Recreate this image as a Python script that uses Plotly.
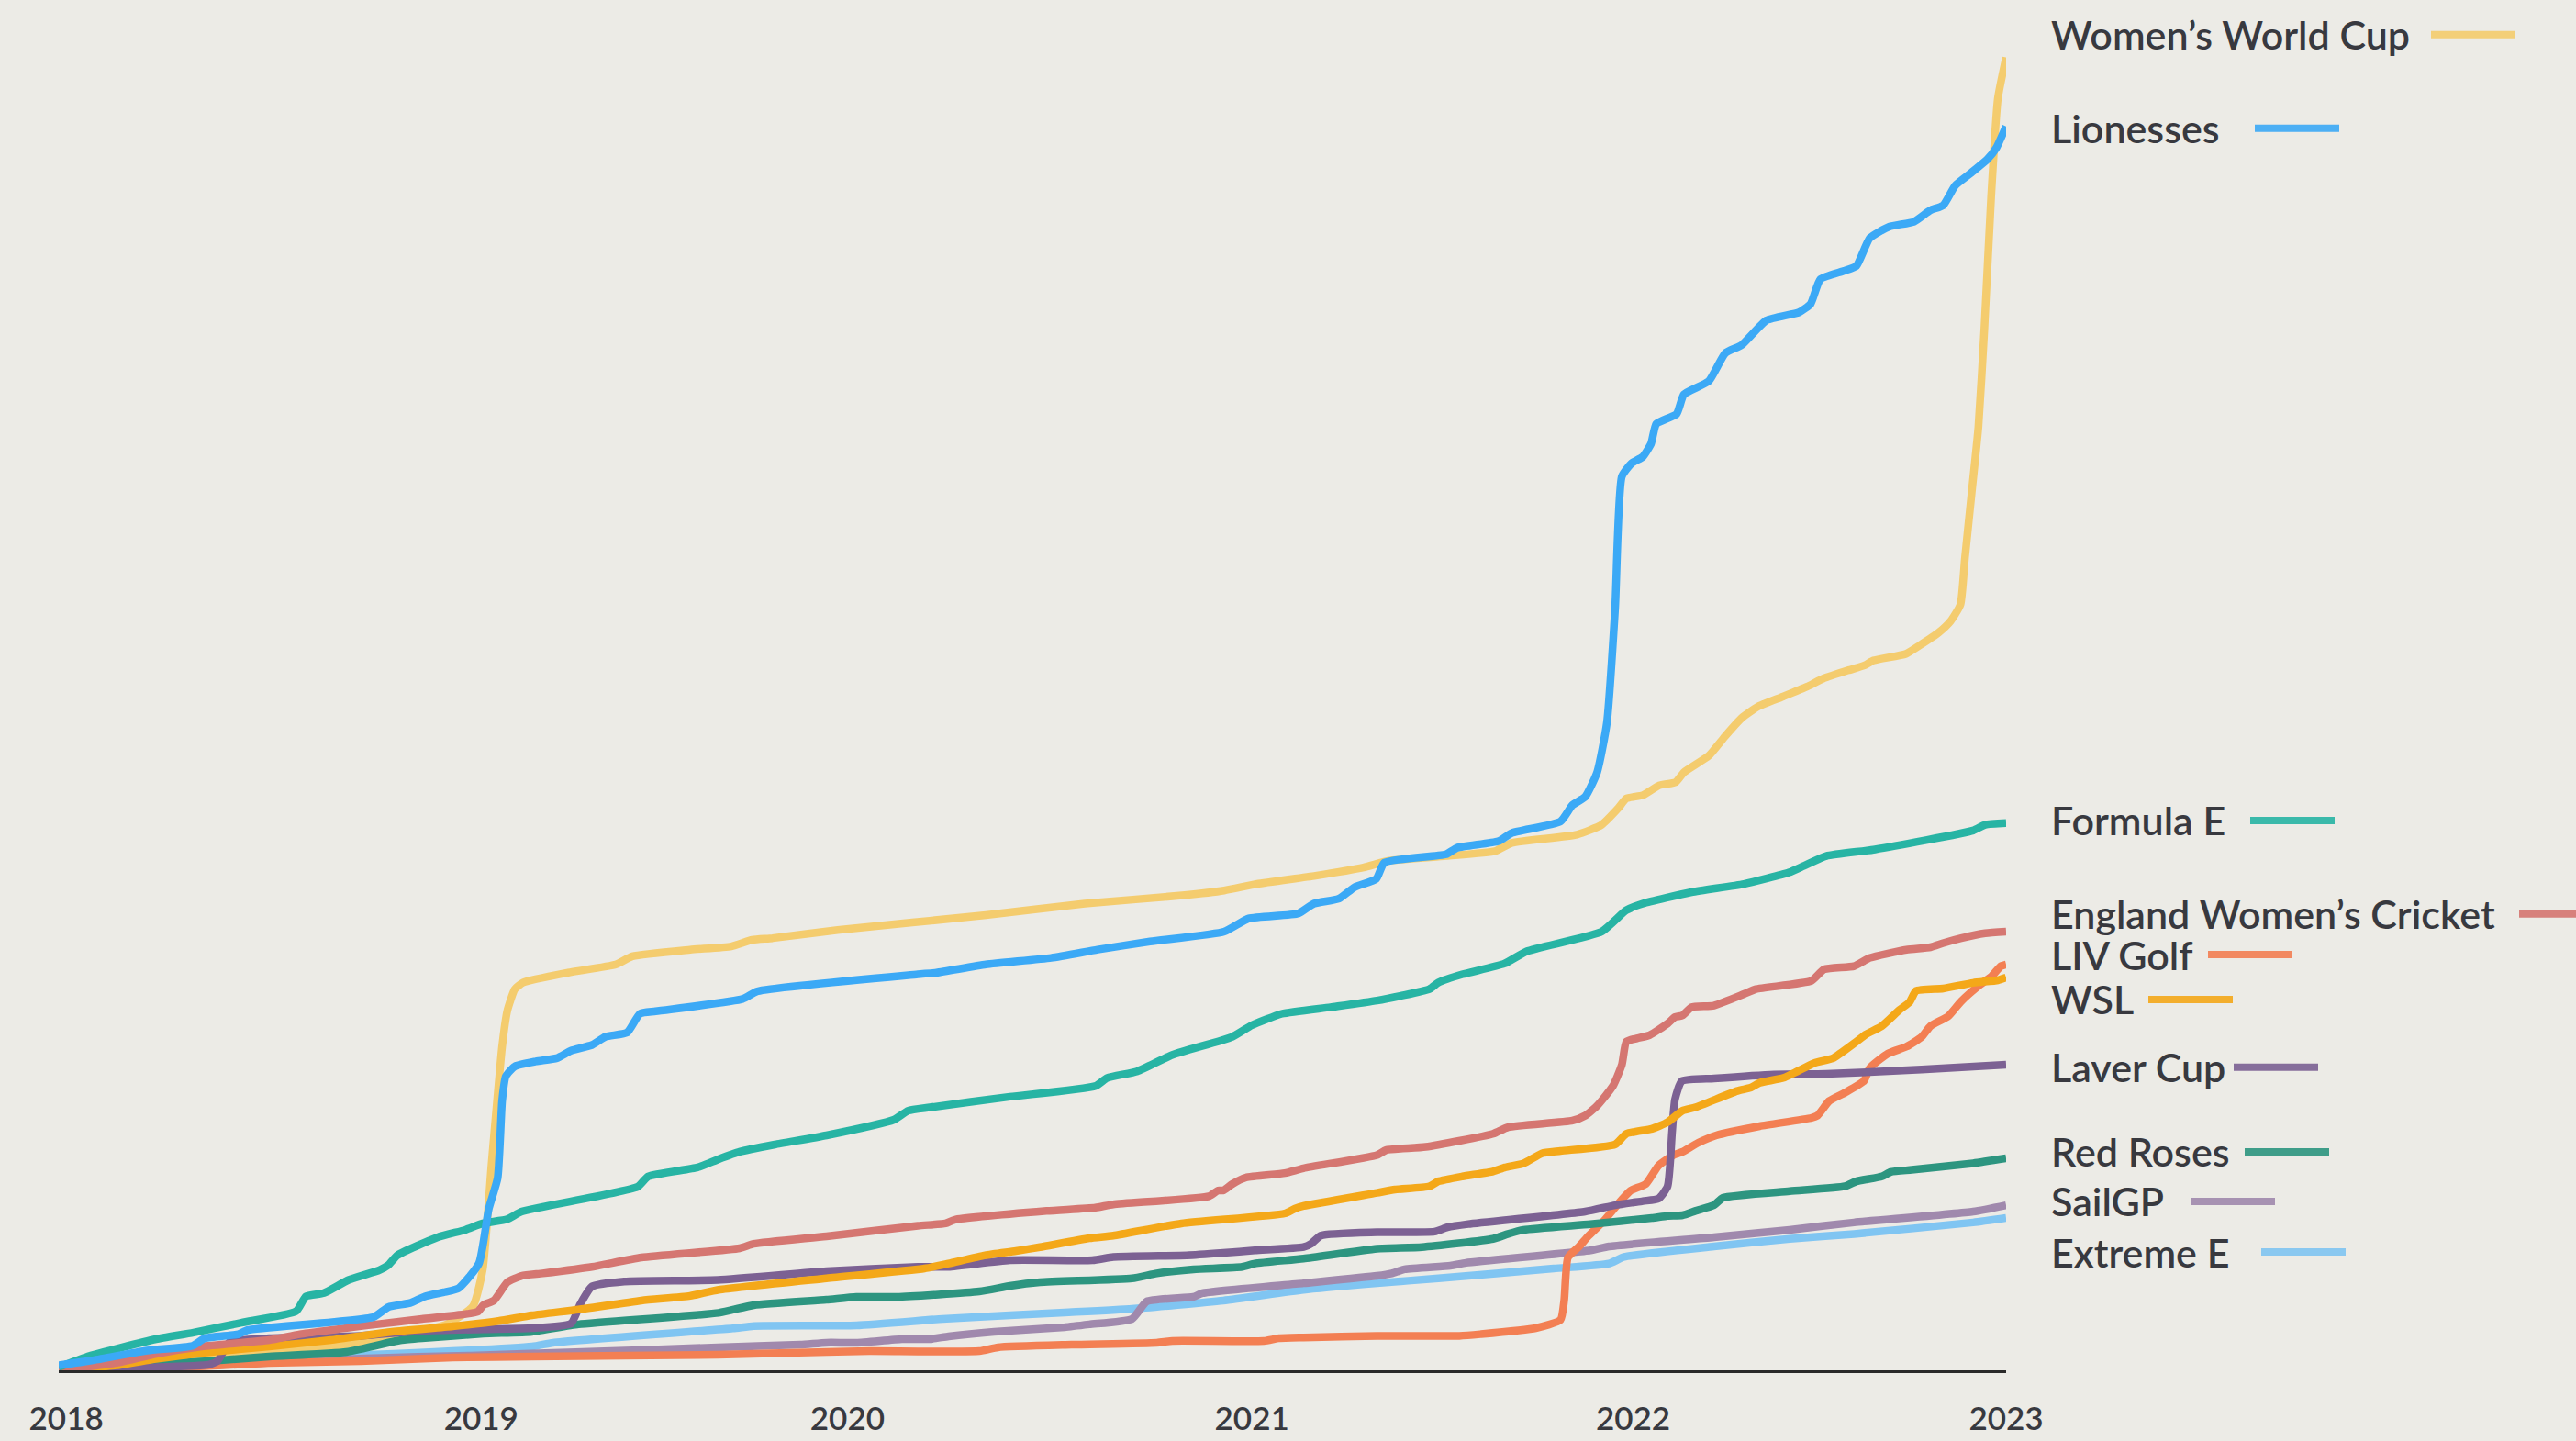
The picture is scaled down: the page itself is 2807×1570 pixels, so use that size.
import plotly.graph_objects as go

# ---------------- data (x = weeks since start of 2018, y = index value) ----------------
tick_weeks = [1.0, 56.4, 105.3, 159.3, 210.2, 260]
tick_labels = ["2018", "2019", "2020", "2021", "2022", "2023"]

wwc_w = [0, 10, 20, 30, 36.3, 40.3, 46.4, 51.8, 55.3, 56.6, 57.8, 59.2, 59.9, 60.9, 62, 68, 74.4, 76.6, 84.3, 89.8,
         92.6, 95.3, 104, 123.8, 137, 150, 155.6, 160, 167.8, 174.2, 177.5, 185.2, 191.8, 194, 202.7, 206, 208.2, 209.3,
         211.5, 213.7, 215.9, 217, 220.3, 222.5, 224.7, 226.9, 230.2, 233.4, 235.6, 238.9, 241.1, 242.3, 246.6, 248.4,
         251, 252.6, 253.9, 254.5, 255.4, 256.3, 257.1, 258, 258.9, 260]
wwc_v = [0, 4, 8, 11, 14.5, 17, 22, 28, 39, 61, 126, 197, 219, 232, 236, 242, 247, 252, 256, 258,
         262, 263, 268, 277, 284, 289, 292, 296, 301, 306, 310, 313, 316, 321, 326, 332, 342, 348,
         350, 356, 358, 364, 374, 386, 397, 404, 410, 416, 421, 426, 429, 432, 436, 441,
         449, 456, 466, 494, 534, 574, 634, 714, 774, 799]

lio_w = [0, 4.4, 11.8, 17.9, 19.5, 24, 25.2, 42, 44, 46.9, 48.9, 51.4, 53.4, 56.1, 57.4, 58.6, 59.2, 59.7, 60.9, 63.7,
         66.5, 68.4, 71.2, 73, 75.9, 77.6, 79.7, 91.3, 93.3, 114.7, 117.2, 123.8, 132.5, 138.7, 145.7, 155.6, 158.9,
         165.5, 167.6, 170.9, 173, 175.9, 177, 185.2, 186.7, 192.2, 194, 200.5, 202.1, 203.8, 205.4, 206.7, 207.8,
         208.7, 210, 211.5, 212.6, 213.3, 216, 217, 220.3, 222.5, 224.7, 228, 232.4, 233.9, 235.2, 238.3, 240, 241.8,
         244.4, 247.7, 249.9, 251.6, 253.2, 255.4, 257.5, 258.7, 260]
lio_v = [3, 6, 12, 15, 19.5, 22, 24.5, 32.4, 38.5, 41, 45, 47.5, 50, 65, 98, 117, 164, 179, 185, 188,
         190, 194.5, 198, 203, 205.6, 217, 218.5, 226, 230.7, 241, 242, 247, 251, 256, 261, 267, 275,
         278, 284, 287, 294, 299, 309, 314, 318, 322, 327, 334, 344, 349, 364, 394, 464,
         544, 552, 556, 564, 576, 582, 594, 602, 619, 624, 639, 644, 649, 664, 669, 672, 689,
         696, 699, 706, 709, 721, 729, 737, 744, 757]

fe_w = [0, 3.6, 8.5, 13, 18, 24.4, 31.7, 33, 35.4, 38.7, 42.8, 44, 45.2, 50.6, 54.3, 56.6, 59.9, 61.8, 77.3, 78.7,
        85.3, 88.1, 90.9, 95.6, 102.5, 111.5, 113.4, 116.3, 127, 138.4, 140, 144, 148.7, 156.7, 159.3, 163.3, 169.8,
        176, 183, 184.2, 187.4, 193, 196, 206, 209.3, 211.5, 218, 225, 231, 233, 236, 242.5, 255.6, 257.2, 260]
fe_v = [2, 8, 14, 19, 23, 29, 36, 45, 47, 55, 61, 64, 70, 81, 85.5, 89.4, 92, 96.6, 111.7, 118,
        123.5, 128.5, 133, 137.4, 143, 152.5, 158, 160, 166.5, 173, 178, 182, 192, 203, 210, 217, 221,
        225, 232, 236, 241, 247.5, 255, 267, 280, 284, 291, 296, 303, 307, 313, 317, 328.5, 332, 333]

ewc_w = [0, 7.7, 13, 19.1, 28.1, 32.2, 42.4, 48.5, 55.9, 56.7, 58.1, 59.9, 61.8, 64.6, 71.2, 77.8, 90.9, 92.8, 102.5,
         114.7, 118.4, 119.6, 131.9, 138.4, 140.8, 153.6, 154.8, 155.5, 156.7, 158.5, 163.7, 166.2, 176, 177.2, 182.5,
         191.5, 193.5, 202.1, 203.8, 205.4, 207.5, 208.7, 209.3, 210.7, 212.4, 214.8, 215.8, 216.8, 218, 221, 225,
         226.6, 234, 235.7, 239.7, 241.8, 246.7, 249.9, 251.6, 254, 257.2, 260]
ewc_v = [0, 4.5, 10, 14.5, 18.4, 22, 28, 31.3, 35.6, 39.7, 42.5, 53.6, 57.5, 59, 63, 68.7, 74.3, 77, 81.6,
         88, 89.4, 91.6, 97, 99, 101, 106, 109.5, 109.5, 113.4, 117.3, 120, 123, 131, 134, 136,
         144, 148, 152, 155, 161, 173, 186, 200, 202, 204, 211, 215, 216, 221, 222, 229,
         232, 237, 244, 246, 251, 256, 257.5, 260, 263, 266, 267]

liv_w = [0, 15.8, 28, 40.3, 52.6, 63.2, 88, 102.5, 108.2, 122.9, 125.4, 135.2, 146.6, 148.7, 160.9, 162.9, 166.2,
         176, 187, 189.8, 197.2, 200.5, 201, 201.5, 203, 204.2, 206.3, 208.7, 209.9, 211.9, 213.6, 215.6, 216.8,
         218.9, 221.3, 227.1, 234, 234.8, 236.4, 238.5, 241, 241.8, 244.2, 246.7, 248.7, 249.9, 252.3, 254, 256.5,
         258.1, 259.3, 260]
liv_v = [0, 1.7, 4.5, 5.6, 7.8, 8.4, 9.5, 11.2, 11.7, 11.7, 14, 15.6, 16.8, 17.9, 17.9, 19.5, 20,
         21, 21, 22, 25.7, 30.7, 42.5, 68.7, 75.4, 81.6, 91, 104, 109.5, 113.4, 124.6, 131, 133,
         138.5, 143, 148.6, 153.6, 155, 164, 169, 176, 184, 192.7, 197, 202.8, 209.5, 215.6, 224.6, 234.6,
         240, 246, 247]

wsl_w = [0, 7.7, 13, 20, 28.1, 36.3, 44.5, 52.6, 58.7, 63.2, 69.4, 77.8, 84.3, 88.1, 102.5, 115.6, 118.8, 123.7,
         127.8, 131, 137.6, 140.8, 149.9, 163.7, 165, 166.2, 176, 178.4, 183, 184.2, 187.4, 191.5, 193.1, 195.6, 198,
         200.5, 207.8, 209.3, 212.7, 214.8, 216.8, 218.5, 224.1, 225.9, 227.1, 230.3, 234.4, 236.9, 239.7, 241.3,
         243.4, 245.8, 247.1, 248, 251.6, 255.6, 258.9, 260]
wsl_v = [0, 3, 7, 11, 14.5, 18.4, 23.5, 26.8, 30, 33.5, 37, 42.5, 45.3, 49, 56, 62, 65, 70,
         72.6, 75, 80.4, 82, 89.4, 95.5, 98.3, 100, 108, 110, 112, 115, 118, 121, 123.5, 126, 132,
         133.5, 137.5, 144, 147, 151, 158, 160, 170, 172, 175, 178, 187, 190, 199, 204.5,
         209.5, 219.5, 224, 231, 232.4, 235.8, 237.4, 239]

lav_w = [0, 7.7, 11.8, 20, 21.2, 22, 22.8, 28.1, 40.3, 48.5, 56.7, 63.2, 68.4, 69.6, 71.2, 75.5, 88, 102.5, 114.7,
         118.8, 127, 138, 140.8, 150.6, 155.5, 159.7, 166.2, 167.2, 168.5, 176, 183.7, 185.4, 188.2, 203.8, 207.8,
         211.5, 213.6, 214.8, 215.4, 215.8, 216.7, 221, 229, 236, 248.7, 260]
lav_v = [0, 1, 1.7, 3.4, 5.6, 11.7, 17.3, 19.5, 21, 24, 25, 25.7, 28.5, 40, 51, 54, 55, 60.3, 63,
         63, 67, 67, 69, 70, 71.5, 73, 75, 77, 82, 84, 84.4, 87, 89, 96.6, 100.5,
         103, 104.5, 112, 145, 165, 176, 177.6, 180, 180.4, 183, 186]

rr_w = [0, 11.8, 20, 28.1, 38.4, 44.5, 45.8, 48.5, 56.7, 63.2, 69.4, 88.1, 92.8, 102.5, 106.5, 111.9, 122.9, 127,
        131, 143.3, 146.6, 151.5, 158, 159.7, 166.2, 176, 182, 191.5, 193.5, 195.6, 204.5, 212.7, 214.8, 216.8,
        218.5, 221, 222.2, 231.1, 238.5, 240, 243.4, 244.6, 247.4, 255.6, 260]
rr_v = [0, 3.4, 5.6, 8.4, 11.2, 17.3, 18.4, 19.5, 22.3, 23.5, 28, 35, 39.7, 43, 44.7, 44.7, 48, 51.4,
        53.6, 56, 59, 61.5, 63, 65, 68, 74, 75, 80, 83, 85.5, 89, 92.7, 94, 94.4,
        97, 100.5, 105, 109, 112, 115, 118, 120.7, 122, 126, 129]

sgp_w = [0, 20, 41, 55, 69, 88, 99, 102.5, 106.5, 112.6, 116.3, 118.8, 124.9, 134.3, 137.6, 143.3, 145.3, 151.5,
         152.7, 166.2, 176, 178, 179.7, 185.8, 187.9, 204.5, 207, 221, 231.1, 239.7, 255.6, 260]
sgp_v = [0, 3, 7.3, 9, 11, 14, 15.6, 16.8, 16.8, 19, 19, 20.7, 23.5, 26.3, 28, 31.3, 42, 44.7,
         47, 53, 57.5, 59, 61.5, 63.7, 65.4, 73, 75.4, 81, 85.5, 90, 96.6, 100.5]

ee_w = [0, 15, 27, 44.7, 63.2, 66, 90, 92.8, 106.5, 118, 127, 134.3, 143.3, 155.5, 166.2, 176, 184.2, 199.6, 207,
        209, 221, 231.1, 239.7, 255.6, 260]
ee_v = [0, 3, 7, 10, 14.5, 16.8, 25.5, 27, 27.4, 31.3, 33.5, 35.2, 37.4, 42.5, 49, 53, 56, 62, 65,
        69, 75.4, 80, 83, 90, 92.7]

series_names = ["Women\u2019s World Cup", "Lionesses", "Formula E", "England Women\u2019s Cricket", "LIV Golf",
                "WSL", "Laver Cup", "Red Roses", "SailGP", "Extreme E"]
series_x = [wwc_w, lio_w, fe_w, ewc_w, liv_w, wsl_w, lav_w, rr_w, sgp_w, ee_w]
series_y = [wwc_v, lio_v, fe_v, ewc_v, liv_v, wsl_v, lav_v, rr_v, sgp_v, ee_v]

# ---------------- styling / layout ----------------
colors = ["#f4cc6e", "#3ba9f6", "#27b4a4", "#d57671", "#f37f53", "#f4a819", "#7c6193", "#2d9580", "#a089ad",
          "#80c5f2"]
draw_order = [0, 9, 8, 4, 7, 6, 5, 3, 2, 1]
label_pos = [812.8, 755.9, 334.6, 277.7, 253.0, 225.7, 184.4, 133.0, 102.8, 72.0]
seg_offset = [416, 224, 219, 512, 173, 108, 201, 213, 154, 231]

BG = "#ecebe6"
TEXT = "#38393f"
YMAX = 806

fig = go.Figure()
for i in draw_order:
    fig.add_trace(go.Scatter(x=series_x[i], y=series_y[i], mode="lines", name=series_names[i],
                             line=dict(color=colors[i], width=8.5, shape="spline", smoothing=0.5),
                             hoverinfo="skip", showlegend=False))

annotations = []
shapes = []
for i, name in enumerate(series_names):
    annotations.append(dict(x=1, xref="paper", xshift=47, xanchor="left", y=label_pos[i] / YMAX, yref="paper",
                            yanchor="middle", text=name, showarrow=False,
                            font=dict(family="Lato", size=43, color=TEXT, weight=600)))
    shapes.append(dict(type="line", xref="paper", yref="paper", xsizemode="pixel", ysizemode="pixel",
                       xanchor=1, yanchor=label_pos[i] / YMAX, x0=47 + seg_offset[i], x1=47 + seg_offset[i] + 92,
                       y0=0, y1=0, line=dict(color=colors[i], width=8), opacity=0.9))

fig.update_layout(width=2807, height=1570, margin=dict(l=64, r=621, t=50, b=77, autoexpand=False),
                  paper_bgcolor=BG, plot_bgcolor=BG, showlegend=False,
                  annotations=annotations, shapes=shapes)
fig.update_xaxes(range=[0, 260], tickvals=tick_weeks, ticktext=tick_labels, showgrid=False, zeroline=False,
                 showline=True, linecolor="#2a2a2a", linewidth=3, ticks="", automargin=False,
                 tickfont=dict(family="Lato", size=35, color=TEXT, weight=600), ticklabelstandoff=20)
fig.update_yaxes(range=[0, YMAX], visible=False, showgrid=False, zeroline=False, automargin=False)

fig.write_html("out.html", config={"displayModeBar": False},
               post_script="document.body.style.margin='0';document.body.style.overflow='hidden';"
                           "document.body.style.background='" + BG + "';")
